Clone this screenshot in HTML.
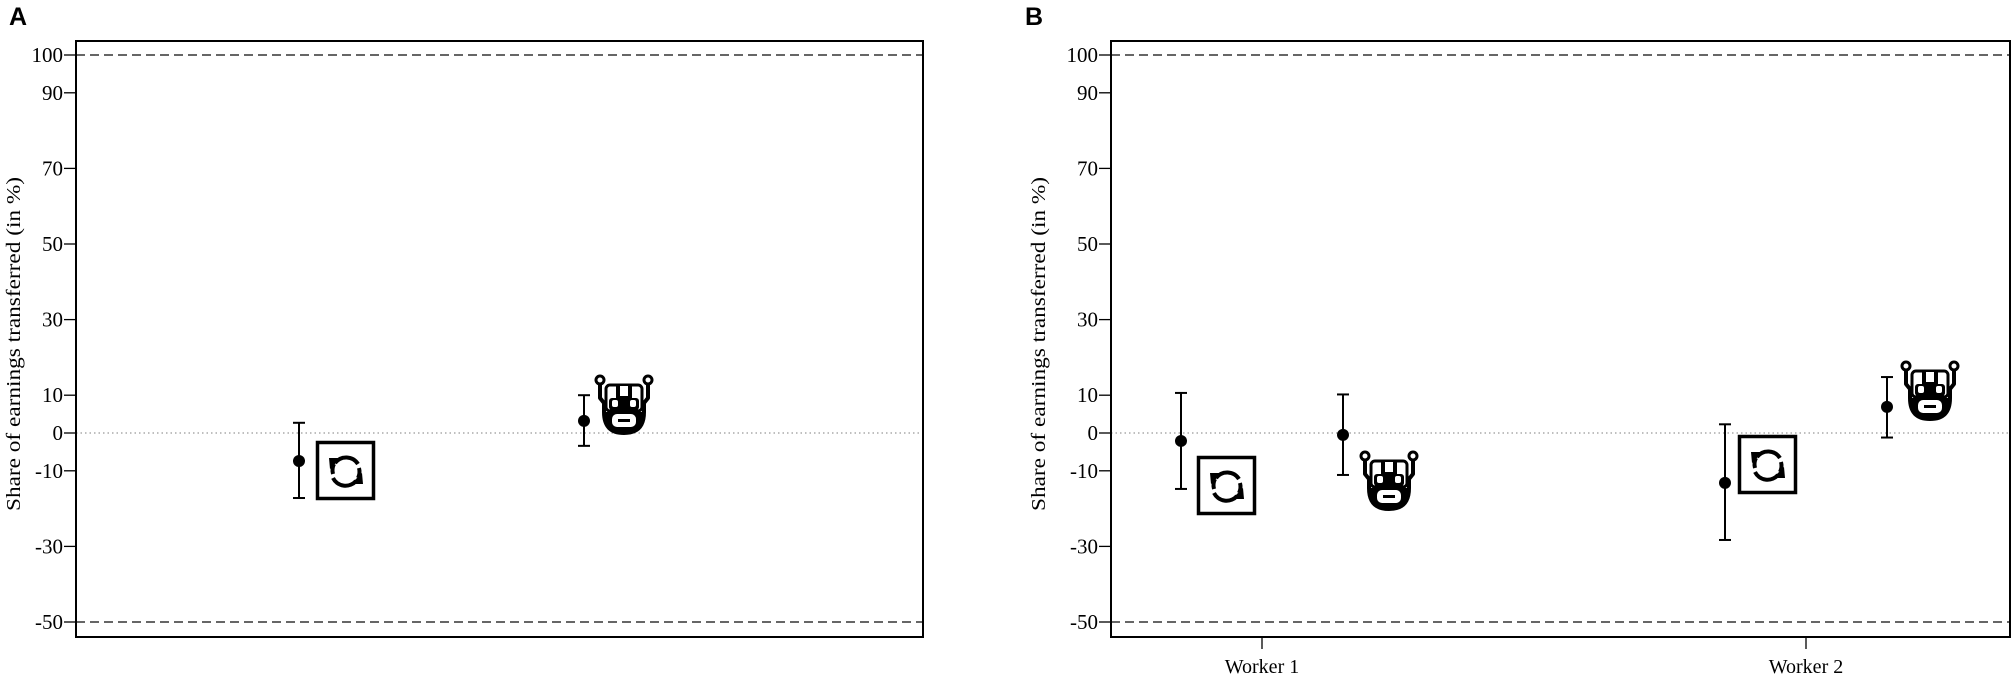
<!DOCTYPE html>
<html><head><meta charset="utf-8"><style>
html,body{margin:0;padding:0;background:#fff;width:2016px;height:686px;overflow:hidden}
svg{display:block}
</style></head><body>
<svg id="fig" width="2016" height="686" xmlns="http://www.w3.org/2000/svg"></svg>
<script>
const yTicks = [100, 90, 70, 50, 30, 10, 0, -10, -30, -50];
const refLines = [100, -50];
const panelA_means = [-7.4, 3.2];
const panelA_upper = [2.7, 10];
const panelA_lower = [-17.2, -3.4];
const panelB_categories = ["Worker 1", "Worker 2"];
const panelB_computer_means = [-2.1, -13.2];
const panelB_computer_upper = [10.6, 2.3];
const panelB_computer_lower = [-14.8, -28.3];
const panelB_robot_means = [-0.5, 6.9];
const panelB_robot_upper = [10.2, 14.8];
const panelB_robot_lower = [-11.1, -1.2];

const NS = "http://www.w3.org/2000/svg";
const svg = document.getElementById('fig');
function mk(tag, attrs, parent) {
  const e = document.createElementNS(NS, tag);
  for (const k in attrs) e.setAttribute(k, attrs[k]);
  (parent || svg).appendChild(e);
  return e;
}
function yScale(v) { return 433 - v * 3.78; }

function panel(letter, L, R, letterX, ylabX) {
  const g = mk('g', {});
  
  
  const t = mk('text', {x: letterX, y: 25, 'font-family': 'Liberation Sans, sans-serif', 'font-weight': 'bold', 'font-size': 25}, g);
  t.textContent = letter;
  
  
  // reference lines
  refLines.forEach(v => {
    const l = mk('line', {x1: L, x2: R, y1: yScale(v), y2: yScale(v), stroke: '#333', 'stroke-width': 1.6, 'stroke-dasharray': '9 5'}, g);
    
    
  });
  const z = mk('line', {x1: L, x2: R, y1: yScale(0), y2: yScale(0), stroke: '#999', 'stroke-width': 1.2, 'stroke-dasharray': '1.5 3'}, g);
  
  
  const f = mk('rect', {x: L, y: 41, width: R - L, height: 596, fill: 'none', stroke: '#000', 'stroke-width': 2}, g);
  
  
  yTicks.forEach(v => {
    const y = yScale(v);
    const tk = mk('line', {x1: L - 12, x2: L, y1: y, y2: y, stroke: '#000', 'stroke-width': 1.3}, g);
    
    
    const tl = mk('text', {x: L - 13, y: y + 7, 'text-anchor': 'end', 'font-family': 'Liberation Serif, serif', 'font-size': 21}, g);
    tl.textContent = v;
    
    
  });
  const yl = mk('text', {x: 0, y: 0, transform: `translate(${ylabX},344) rotate(-90)`, 'text-anchor': 'middle', 'font-family': 'Liberation Serif, serif', 'font-size': 20, textLength: 334, lengthAdjust: 'spacingAndGlyphs'}, g);
  yl.textContent = 'Share of earnings transferred (in %)';
  
  
  return g;
}

function errPoint(x, m, lo, hi, name) {
  const g = mk('g', {});
  
  
  mk('line', {x1: x, x2: x, y1: yScale(hi), y2: yScale(lo), stroke: '#000', 'stroke-width': 2}, g);
  mk('line', {x1: x - 6, x2: x + 6, y1: yScale(hi), y2: yScale(hi), stroke: '#000', 'stroke-width': 2}, g);
  mk('line', {x1: x - 6, x2: x + 6, y1: yScale(lo), y2: yScale(lo), stroke: '#000', 'stroke-width': 2}, g);
  mk('circle', {cx: x, cy: yScale(m), r: 6, fill: '#000'}, g);
}

function computerIcon(x, y, name) {
  const g = mk('g', {transform: `translate(${x},${y})`});
  
  
  mk('rect', {x: 1.5, y: 1.5, width: 56, height: 56, fill: '#fff', stroke: '#000', 'stroke-width': 3.5}, g);
  mk('path', {d: 'M19,22 A14,14 0 0 1 42,23', fill: 'none', stroke: '#000', 'stroke-width': 4}, g);
  mk('path', {d: 'M17,37 A14,14 0 0 0 40,40', fill: 'none', stroke: '#000', 'stroke-width': 4}, g);
  mk('path', {d: 'M17,33 A14,14 0 0 1 18,23', fill: 'none', stroke: '#000', 'stroke-width': 4}, g);
  mk('path', {d: 'M43,27 A14,14 0 0 1 42,37', fill: 'none', stroke: '#000', 'stroke-width': 4}, g);
  mk('polygon', {points: '13,17 25,17 14,28', fill: '#000'}, g);
  mk('polygon', {points: '47,43 35,43 46,32', fill: '#000'}, g);
}

function robotIcon(x, y, name) {
  const g = mk('g', {transform: `translate(${x},${y})`});
  
  
  mk('path', {d: 'M6,10 L6,24 L10,29 L10,38 Q10,59 30,59 Q50,59 50,38 L50,29 L54,24 L54,10', fill: '#fff', stroke: '#000', 'stroke-width': 4, 'stroke-linejoin': 'round'}, g);
  mk('circle', {cx: 6, cy: 6, r: 4, fill: '#fff', stroke: '#000', 'stroke-width': 3}, g);
  mk('circle', {cx: 54, cy: 6, r: 4, fill: '#fff', stroke: '#000', 'stroke-width': 3}, g);
  mk('path', {d: 'M10,38 Q10,59 30,59 Q50,59 50,38 Z', fill: '#000'}, g);
  mk('rect', {x: 18, y: 40, width: 24, height: 13, rx: 5, fill: '#fff'}, g);
  mk('rect', {x: 24, y: 45, width: 12, height: 3, fill: '#000'}, g);
  mk('rect', {x: 12, y: 11, width: 36, height: 26, rx: 4, fill: '#fff', stroke: '#000', 'stroke-width': 3}, g);
  mk('rect', {x: 22, y: 12, width: 16, height: 24, fill: '#000'}, g);
  mk('rect', {x: 26, y: 12, width: 8, height: 10, fill: '#fff'}, g);
  mk('rect', {x: 15, y: 24, width: 30, height: 12, rx: 3, fill: '#000'}, g);
  mk('rect', {x: 18, y: 26, width: 6, height: 7, rx: 2, fill: '#fff'}, g);
  mk('rect', {x: 36, y: 26, width: 6, height: 7, rx: 2, fill: '#fff'}, g);
}

// Panel A
panel('A', 76, 923, 9, 20);
const aX = [299, 584];
errPoint(aX[0], panelA_means[0], panelA_lower[0], panelA_upper[0], 'computer-estimate-a');
errPoint(aX[1], panelA_means[1], panelA_lower[1], panelA_upper[1], 'robot-estimate-a');
computerIcon(316, 441, 'computer-icon-a');
robotIcon(594, 374, 'robot-icon-a');

// Panel B
panel('B', 1111, 2010, 1025, 1045);
const catX = [1262, 1806];
panelB_categories.forEach((c, i) => {
  const tk = mk('line', {x1: catX[i], x2: catX[i], y1: 637, y2: 649, stroke: '#000', 'stroke-width': 1.3});
  
  
  const tl = mk('text', {x: catX[i], y: 673, 'text-anchor': 'middle', 'font-family': 'Liberation Serif, serif', 'font-size': 20});
  tl.textContent = c;
  
  
});
const compOff = -81, robOff = 81;
const compIconPos = [[1197, 456], [1738, 435]];
const robIconPos = [[1359, 450], [1900, 360]];
panelB_categories.forEach((c, i) => {
  errPoint(catX[i] + compOff, panelB_computer_means[i], panelB_computer_lower[i], panelB_computer_upper[i], 'computer-estimate-b');
  errPoint(catX[i] + robOff, panelB_robot_means[i], panelB_robot_lower[i], panelB_robot_upper[i], 'robot-estimate-b');
  computerIcon(compIconPos[i][0], compIconPos[i][1], 'computer-icon-b');
  robotIcon(robIconPos[i][0], robIconPos[i][1], 'robot-icon-b');
});
</script>
</body></html>
